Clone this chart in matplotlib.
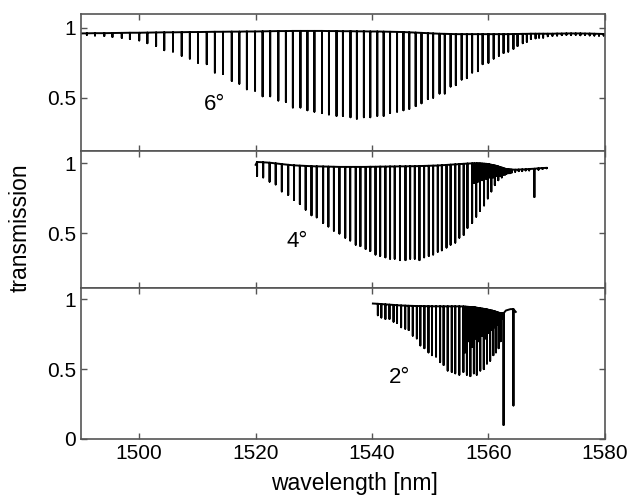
import numpy as np
import matplotlib.pyplot as plt

plt.rcParams['font.family'] = ['Liberation Sans', 'DejaVu Sans']

# Dip wavelengths [nm], dip minima and local upper level
# 6 degree
wl_6 = [1490.0, 1491.0, 1492.4, 1494.0, 1495.4, 1497.0, 1498.4, 1500.0, 1501.4, 1502.9,
        1504.3, 1505.8, 1507.3, 1508.7, 1510.1, 1511.6, 1513.0, 1514.4, 1515.9, 1517.2,
        1518.5, 1519.9, 1521.2, 1522.5, 1523.9, 1525.2, 1526.4, 1527.7, 1528.9, 1530.1,
        1531.4, 1532.6, 1533.9, 1535.0, 1536.3, 1537.4, 1538.6, 1539.7, 1540.9, 1542.0,
        1543.1, 1544.3, 1545.4, 1546.4, 1547.5, 1548.5, 1549.6, 1550.5, 1551.6, 1552.5,
        1553.5, 1554.4, 1555.4, 1556.3, 1557.2, 1558.2, 1559.0, 1560.0, 1560.9, 1561.8,
        1562.6, 1563.4, 1564.3, 1565.0, 1565.9, 1566.6, 1567.3, 1568.1, 1568.7, 1569.4,
        1570.2, 1571.0, 1571.8, 1572.6, 1573.4, 1574.2, 1575.0, 1575.8, 1576.6, 1577.4,
        1578.2, 1579.0, 1579.8, 1580.0]
dip_6 = [0.960, 0.950, 0.945, 0.942, 0.935, 0.928, 0.92, 0.91, 0.89, 0.87,
         0.84, 0.83, 0.80, 0.78, 0.75, 0.74, 0.68, 0.67, 0.62, 0.60,
         0.56, 0.55, 0.51, 0.51, 0.48, 0.47, 0.43, 0.43, 0.41, 0.40,
         0.39, 0.38, 0.37, 0.37, 0.36, 0.35, 0.36, 0.36, 0.37, 0.37,
         0.39, 0.40, 0.41, 0.42, 0.44, 0.46, 0.49, 0.50, 0.53, 0.53,
         0.58, 0.59, 0.63, 0.64, 0.68, 0.69, 0.74, 0.75, 0.78, 0.80,
         0.82, 0.83, 0.85, 0.87, 0.89, 0.90, 0.92, 0.925, 0.93, 0.93,
         0.94, 0.943, 0.945, 0.948, 0.95, 0.948, 0.95, 0.947, 0.95, 0.946,
         0.945, 0.944, 0.945, 0.955]
top_6 = [0.960, 0.961, 0.962, 0.962, 0.963, 0.964, 0.965, 0.965, 0.966, 0.967,
         0.968, 0.968, 0.969, 0.970, 0.970, 0.971, 0.972, 0.972, 0.973, 0.973,
         0.974, 0.974, 0.975, 0.976, 0.977, 0.977, 0.978, 0.978, 0.978, 0.978,
         0.978, 0.977, 0.977, 0.976, 0.976, 0.975, 0.975, 0.974, 0.974, 0.973,
         0.972, 0.971, 0.970, 0.968, 0.966, 0.964, 0.962, 0.960, 0.958, 0.957,
         0.956, 0.955, 0.955, 0.955, 0.955, 0.955, 0.955, 0.955, 0.955, 0.955,
         0.955, 0.955, 0.956, 0.956, 0.957, 0.957, 0.958, 0.958, 0.958, 0.958,
         0.958, 0.958, 0.959, 0.959, 0.960, 0.960, 0.960, 0.960, 0.959, 0.959,
         0.958, 0.957, 0.956, 0.955]

# 4 degree
wl_4 = [1520.0, 1520.25, 1521.3, 1522.4, 1523.45, 1524.5, 1525.6, 1526.6, 1527.6, 1528.6,
        1529.6, 1530.5, 1531.6, 1532.5, 1533.45, 1534.4, 1535.4, 1536.25, 1537.2, 1538.0,
        1538.9, 1539.7, 1540.6, 1541.4, 1542.3, 1543.1, 1543.9, 1544.8, 1545.75, 1546.55,
        1547.35, 1548.15, 1548.95, 1549.75, 1550.5, 1551.3, 1552.0, 1552.8, 1553.5, 1554.3,
        1555.0, 1555.75, 1556.4, 1557.2, 1557.55, 1557.9, 1558.2, 1558.55, 1558.9, 1559.25,
        1559.6, 1559.9, 1560.2, 1560.5, 1560.8, 1561.1, 1561.4, 1561.7, 1562.0, 1562.3,
        1562.6, 1562.85, 1563.1, 1563.4, 1563.7, 1564.0, 1564.6, 1565.2, 1565.8, 1566.4,
        1567.0, 1567.9, 1568.6, 1569.3, 1570.0]
dip_4 = [0.99, 0.91, 0.90, 0.87, 0.85, 0.80, 0.775, 0.74, 0.71, 0.67,
         0.63, 0.615, 0.575, 0.55, 0.52, 0.50, 0.47, 0.45, 0.42, 0.41,
         0.39, 0.375, 0.35, 0.34, 0.33, 0.32, 0.32, 0.31, 0.31, 0.32,
         0.32, 0.31, 0.33, 0.34, 0.35, 0.37, 0.38, 0.40, 0.42, 0.435,
         0.47, 0.49, 0.54, 0.575, 0.86, 0.62, 0.87, 0.66, 0.88, 0.70,
         0.89, 0.75, 0.90, 0.80, 0.90, 0.845, 0.91, 0.88, 0.91, 0.90,
         0.92, 0.92, 0.925, 0.93, 0.93, 0.935, 0.94, 0.945, 0.945, 0.95,
         0.95, 0.76, 0.955, 0.96, 0.965]
top_4 = [0.99, 1.01, 1.008, 1.005, 1.0, 0.995, 0.99, 0.986, 0.984, 0.982,
         0.98, 0.979, 0.978, 0.977, 0.976, 0.975, 0.975, 0.975, 0.975, 0.975,
         0.975, 0.976, 0.976, 0.977, 0.977, 0.978, 0.978, 0.979, 0.979, 0.98,
         0.98, 0.981, 0.982, 0.983, 0.984, 0.985, 0.987, 0.989, 0.991, 0.993,
         0.995, 0.997, 0.999, 1.0, 1.0, 1.0, 1.0, 1.0, 0.999, 0.998,
         0.997, 0.995, 0.993, 0.99, 0.988, 0.985, 0.982, 0.978, 0.974, 0.97,
         0.966, 0.962, 0.96, 0.958, 0.957, 0.956, 0.955, 0.956, 0.957, 0.958,
         0.96, 0.962, 0.965, 0.967, 0.968]

# 2 degree
wl_2 = [1540.15, 1541.0, 1541.6, 1542.3, 1543.0, 1543.7, 1544.3, 1545.0, 1545.7, 1546.3,
        1547.0, 1547.7, 1548.3, 1549.0, 1549.7, 1550.3, 1551.0, 1551.7, 1552.3, 1553.0,
        1553.7, 1554.3, 1555.0, 1555.7, 1556.0, 1556.3, 1556.6, 1556.9, 1557.2, 1557.5,
        1557.75, 1558.0, 1558.3, 1558.6, 1558.9, 1559.2, 1559.5, 1559.75, 1560.05, 1560.3,
        1560.6, 1560.85, 1561.1, 1561.3, 1561.5, 1561.75, 1561.95, 1562.1, 1562.3, 1562.6,
        1563.0, 1563.8, 1564.3, 1564.7]
dip_2 = [0.97, 0.886, 0.87, 0.86, 0.86, 0.84, 0.83, 0.80, 0.79, 0.78,
         0.74, 0.72, 0.67, 0.65, 0.62, 0.60, 0.59, 0.55, 0.53, 0.49,
         0.48, 0.47, 0.46, 0.48, 0.62, 0.46, 0.70, 0.45, 0.66, 0.47,
         0.72, 0.46, 0.70, 0.49, 0.74, 0.50, 0.72, 0.54, 0.76, 0.56,
         0.78, 0.60, 0.80, 0.62, 0.82, 0.65, 0.84, 0.70, 0.86, 0.10,
         0.92, 0.93, 0.24, 0.91]
top_2 = [0.97, 0.968, 0.966, 0.964, 0.962, 0.96, 0.958, 0.956, 0.955, 0.954,
         0.953, 0.952, 0.952, 0.951, 0.951, 0.95, 0.95, 0.95, 0.95, 0.95,
         0.95, 0.95, 0.95, 0.949, 0.948, 0.947, 0.946, 0.945, 0.944, 0.943,
         0.942, 0.94, 0.938, 0.936, 0.934, 0.932, 0.93, 0.928, 0.925, 0.922,
         0.92, 0.917, 0.914, 0.911, 0.908, 0.905, 0.902, 0.90, 0.90, 0.90,
         0.92, 0.93, 0.93, 0.91]

angles = ['6°', '4°', '2°']
xticks = [1500, 1520, 1540, 1560, 1580]


def spectrum(wl, dip, top):
    # cada caida va desde el nivel superior hasta el minimo y vuelve
    x = np.repeat(wl, 3)
    y = np.column_stack([top, dip, top]).ravel()
    return x, y


fig = plt.figure(figsize=(6.38, 4.96), dpi=100)
ax1 = fig.add_axes([0.127, 0.696, 0.821, 0.276])
ax2 = fig.add_axes([0.127, 0.419, 0.821, 0.277])
ax3 = fig.add_axes([0.127, 0.115, 0.821, 0.304])

datos = [(wl_6, dip_6, top_6), (wl_4, dip_4, top_4), (wl_2, dip_2, top_2)]
limites = [(0.12, 1.10), (0.11, 1.09), (0.0, 1.08)]
pos_texto = [(1513.0, 0.45), (1527.2, 0.44), (1544.7, 0.44)]

for ax, (wl, dip, top), lim, ang, pt in zip([ax1, ax2, ax3], datos, limites, angles, pos_texto):
    x, y = spectrum(wl, dip, top)
    ax.plot(x, y, color='black', lw=1.4, solid_joinstyle='round')
    ax.set_xlim(1490, 1580)
    ax.set_ylim(*lim)
    ax.set_xticks(xticks)
    ax.set_yticks([0, 0.5, 1] if ax is ax3 else [0.5, 1])
    ax.set_yticklabels(['0', '0.5', '1'] if ax is ax3 else ['0.5', '1'])
    ax.tick_params(direction='in', top=True, right=True, length=4, width=1,
                   color='#555555', labelsize=15)
    for s in ax.spines.values():
        s.set_color('#555555')
        s.set_linewidth(1.2)
    ax.text(pt[0], pt[1], ang, fontsize=16, ha='center', va='center')
    if ax is not ax3:
        ax.tick_params(labelbottom=False)

fig.text(0.031, 0.54, 'transmission', rotation=90, fontsize=16.5, ha='center', va='center')
fig.text(0.555, 0.026, 'wavelength [nm]', fontsize=16.5, ha='center', va='center')

fig.savefig('out.png', dpi=100)
